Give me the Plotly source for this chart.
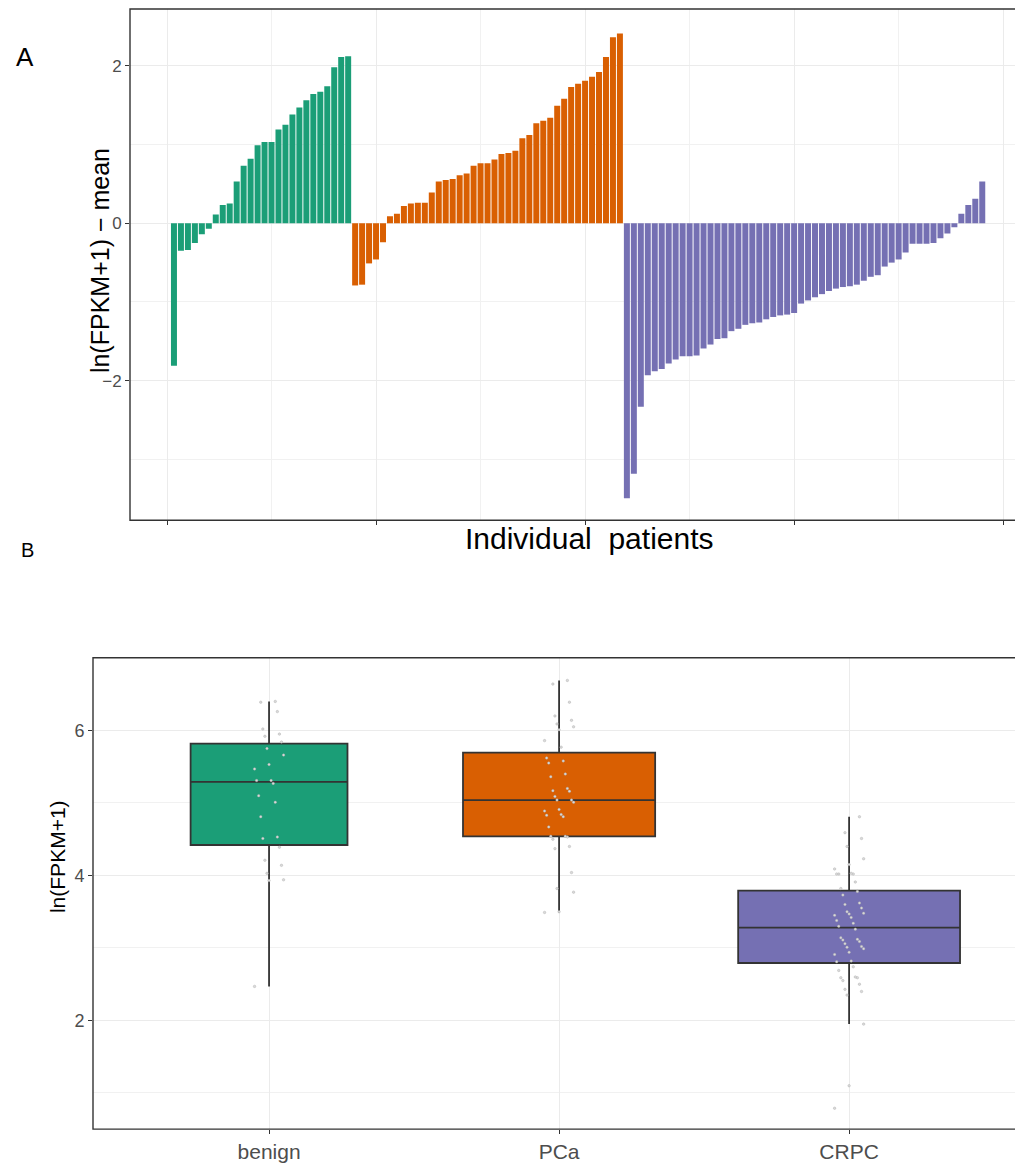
import numpy as np
import plotly.graph_objects as go

# ---------------- data ----------------
groups = ["benign", "PCa", "CRPC"]
group_colors = ["#1B9E77", "#D95F02", "#7570B3"]

# ln(FPKM+1) - overall mean, sorted within each group (panel A bars)
benign_dev = [-1.81, -0.35, -0.34, -0.25, -0.14, -0.07, 0.11, 0.23, 0.25, 0.53,
              0.73, 0.82, 0.99, 1.03, 1.03, 1.19, 1.25, 1.38, 1.47, 1.56,
              1.64, 1.67, 1.74, 1.98, 2.11, 2.12]
pca_dev = [-0.79, -0.78, -0.51, -0.46, -0.24, 0.09, 0.12, 0.22, 0.25, 0.26,
           0.26, 0.39, 0.53, 0.55, 0.56, 0.61, 0.63, 0.73, 0.76, 0.76,
           0.81, 0.88, 0.89, 0.92, 1.08, 1.12, 1.27, 1.30, 1.34, 1.49,
           1.58, 1.73, 1.77, 1.81, 1.86, 1.92, 2.11, 2.36, 2.41]
crpc_dev = [-3.49, -3.18, -2.33, -1.93, -1.88, -1.85, -1.78, -1.73, -1.69, -1.69,
            -1.68, -1.59, -1.54, -1.47, -1.46, -1.37, -1.34, -1.29, -1.27, -1.26,
            -1.22, -1.19, -1.17, -1.16, -1.14, -1.02, -0.98, -0.94, -0.90, -0.86,
            -0.83, -0.81, -0.80, -0.78, -0.73, -0.68, -0.66, -0.55, -0.50, -0.46,
            -0.37, -0.26, -0.26, -0.26, -0.25, -0.19, -0.13, -0.05, 0.12, 0.23,
            0.31, 0.53]
overall_mean = 4.28  # mean of ln(FPKM+1) over all patients

a_yticks = [-2, 0, 2]
b_yticks = [2, 4, 6]

# ---------------- layout helpers ----------------
W, H = 1015, 1163
def px(x):
    return x / W
def py(y):
    return 1 - y / H

devs = [benign_dev, pca_dev, crpc_dev]
FONT = "Liberation Sans, Arial, sans-serif"

fig = go.Figure()

# ---------------- panel A: waterfall bars ----------------
start = 1
for g, col, d in zip(groups, group_colors, devs):
    xs = list(range(start, start + len(d)))
    start += len(d)
    fig.add_trace(go.Bar(x=xs, y=d, marker=dict(color=col, line=dict(width=0)),
                         name=g, showlegend=False, xaxis="x", yaxis="y"))

# ---------------- panel B: boxplots + jittered points ----------------
n_max = max(len(d) for d in devs)
for k, (g, col, d) in enumerate(zip(groups, group_colors, devs), start=1):
    vals = np.array(d) + overall_mean
    q1, med, q3 = np.percentile(vals, [25, 50, 75])
    iqr = q3 - q1
    lo = vals[vals >= q1 - 1.5 * iqr].min()
    hi = vals[vals <= q3 + 1.5 * iqr].max()
    width = 0.765 * np.sqrt(len(vals) / n_max)
    fig.add_trace(go.Box(x=[k], q1=[q1], median=[med], q3=[q3],
                         lowerfence=[lo], upperfence=[hi],
                         width=width, whiskerwidth=0,
                         fillcolor=col, line=dict(color="#333333", width=1.8),
                         boxpoints=False, showlegend=False,
                         xaxis="x2", yaxis="y2"))
    idx = np.arange(len(vals))
    jit = (((idx * 37) % 15) - 7) / 7 * 0.05
    fig.add_trace(go.Scatter(x=k + jit, y=vals, mode="markers",
                             marker=dict(size=2.5, color="#DADADA",
                                         line=dict(width=0.4, color="#A8A8A8")),
                             showlegend=False, hoverinfo="y",
                             xaxis="x2", yaxis="y2"))

grid = "#EBEBEB"
tickfont_a = dict(family=FONT, size=17, color="#4D4D4D")
tickfont_b = dict(family=FONT, size=18, color="#4D4D4D")

fig.update_layout(
    width=W, height=H, autosize=False,
    margin=dict(l=0, r=0, t=0, b=0),
    paper_bgcolor="white", plot_bgcolor="white",
    bargap=0.14, barmode="relative", boxmode="overlay",
    font=dict(family=FONT),
    xaxis=dict(domain=[px(130), 1], range=[-5.31, 121.7],
               tickmode="linear", tick0=0, dtick=30, showticklabels=False,
               ticks="outside", ticklen=4, tickcolor="#333333", tickwidth=1,
               showgrid=True, gridcolor=grid, gridwidth=1,
               minor=dict(tick0=0, dtick=15, showgrid=True, gridcolor="#F1F1F1", gridwidth=1),
               zeroline=False, showline=False, anchor="y"),
    yaxis=dict(domain=[py(522), py(9)], range=[-3.77, 2.72],
               tickvals=a_yticks, ticktext=[("\u2212" + str(-v)) if v < 0 else str(v) for v in a_yticks],
               ticks="outside", ticklen=4, tickcolor="#333333", tickfont=tickfont_a,
               showgrid=True, gridcolor=grid, gridwidth=1,
               minor=dict(tick0=-3, dtick=2, showgrid=True, gridcolor="#F1F1F1", gridwidth=1),
               zeroline=False, showline=False, anchor="x"),
    xaxis2=dict(domain=[px(93), 1], range=[0.393, 3.572],
                tickvals=[1, 2, 3], ticktext=groups,
                tickfont=dict(family=FONT, size=21, color="#4D4D4D"),
                ticks="outside", ticklen=4, tickcolor="#333333",
                showgrid=True, gridcolor=grid, zeroline=False, showline=False, anchor="y2"),
    yaxis2=dict(domain=[py(1133), py(660)], range=[0.502, 7.003],
                tickvals=b_yticks, ticktext=[str(v) for v in b_yticks], tickfont=tickfont_b,
                ticks="outside", ticklen=4, tickcolor="#333333",
                showgrid=True, gridcolor=grid,
                minor=dict(tick0=1, dtick=2, showgrid=True, gridcolor="#F1F1F1", gridwidth=1),
                zeroline=False, showline=False, anchor="x2"),
    shapes=[
        dict(type="rect", xref="paper", yref="paper", x0=px(130), x1=1.03, y0=py(522), y1=py(9),
             line=dict(color="#333333", width=1.4), fillcolor="rgba(0,0,0,0)", layer="above"),
        dict(type="rect", xref="paper", yref="paper", x0=px(93), x1=1.03, y0=py(1133), y1=py(660),
             line=dict(color="#333333", width=1.4), fillcolor="rgba(0,0,0,0)", layer="above"),
    ],
    annotations=[
        dict(text="A", x=px(25), y=py(57), xref="paper", yref="paper", showarrow=False,
             font=dict(size=26, color="black"), xanchor="center", yanchor="middle"),
        dict(text="B", x=px(27), y=py(552), xref="paper", yref="paper", showarrow=False,
             font=dict(size=20, color="black"), xanchor="center", yanchor="middle"),
        dict(text="ln(FPKM+1) \u2212 mean", x=px(100), y=py(262), xref="paper", yref="paper",
             showarrow=False, textangle=-90, font=dict(size=25, color="black"),
             xanchor="center", yanchor="middle"),
        dict(text="Individual  patients", x=px(589), y=py(540), xref="paper", yref="paper",
             showarrow=False, font=dict(size=30, color="black"),
             xanchor="center", yanchor="middle"),
        dict(text="ln(FPKM+1)", x=px(57), y=py(860), xref="paper", yref="paper",
             showarrow=False, textangle=-90, font=dict(size=21, color="black"),
             xanchor="center", yanchor="middle"),
    ],
)

fig.write_html("out.html", config={"displayModeBar": False})
with open("out.html", "r", encoding="utf-8") as f:
    html = f.read()
html = html.replace("<head>", "<head><style>html,body{margin:0;padding:0;overflow:hidden;}</style>", 1)
with open("out.html", "w", encoding="utf-8") as f:
    f.write(html)
